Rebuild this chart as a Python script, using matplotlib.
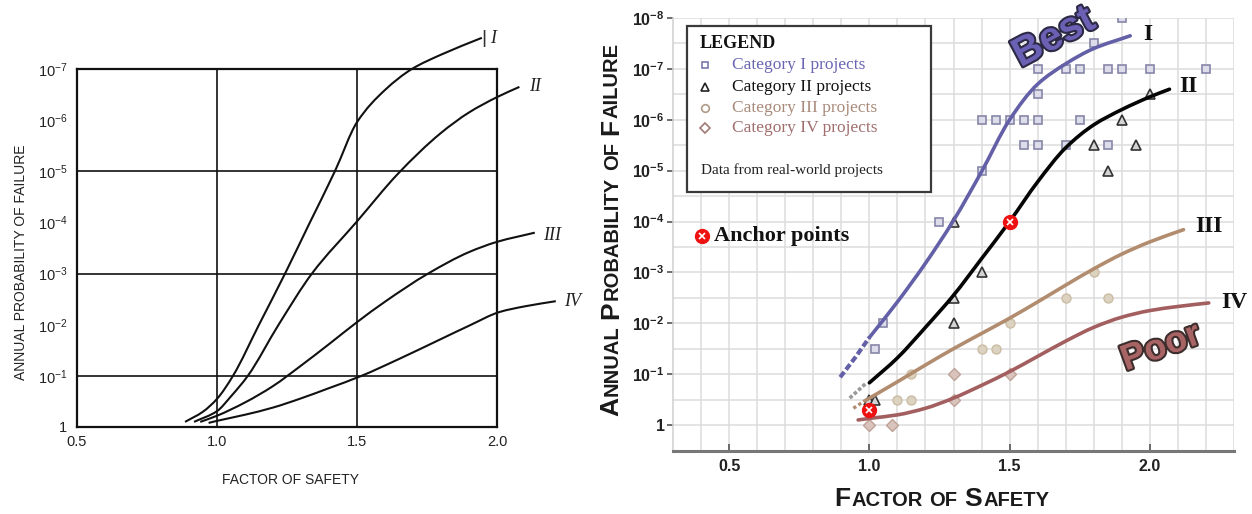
import numpy as np
import matplotlib
matplotlib.use("Agg")
import matplotlib.pyplot as plt
import matplotlib.patheffects as pe
from matplotlib.patches import Rectangle, PathPatch
from matplotlib.lines import Line2D
from matplotlib.path import Path
from matplotlib.transforms import IdentityTransform

plt.rcParams['font.family'] = ['Liberation Sans', 'DejaVu Sans']
plt.rcParams['mathtext.default'] = 'regular'

# ---------------- data (factor of safety, log10 annual probability of failure) -------------
# left panel (original curves)
L1_fs = [0.886, 0.95, 1.0, 1.057, 1.15, 1.243, 1.33, 1.421, 1.5, 1.6, 1.696, 1.8, 1.946]
L1_lp = [-0.1, -0.3, -0.55, -1.0, -2.0, -3.0, -3.98, -5.0, -5.96, -6.59, -7.0, -7.28, -7.61]
L2_fs = [0.918, 1.0, 1.05, 1.11, 1.22, 1.339, 1.5, 1.646, 1.8, 1.9, 2.0, 2.08]
L2_lp = [-0.1, -0.31, -0.6, -1.0, -2.0, -3.0, -4.02, -4.95, -5.75, -6.15, -6.45, -6.65]
L3_fs = [0.94, 1.0, 1.1, 1.2, 1.3, 1.4, 1.5, 1.6, 1.754, 1.9, 2.0, 2.135]
L3_lp = [-0.1, -0.22, -0.48, -0.8, -1.2, -1.62, -2.05, -2.45, -3.0, -3.42, -3.62, -3.8]
L4_fs = [0.97, 1.0, 1.1, 1.2, 1.3, 1.4, 1.516, 1.65, 1.8, 1.9, 2.01, 2.1, 2.21]
L4_lp = [-0.08, -0.12, -0.24, -0.38, -0.56, -0.76, -1.0, -1.33, -1.72, -1.98, -2.25, -2.36, -2.46]
left_labels = ['I', 'II', 'III', 'IV']
left_label_fs = [1.985, 2.136, 2.196, 2.27]
left_label_lp = [-7.6, -6.65, -3.75, -2.46]

# right panel (redrawn curves)
R1_dash_fs = [0.896, 0.95, 1.0]
R1_dash_lp = [-0.94, -1.33, -1.72]
R1_fs = [1.0, 1.1, 1.2, 1.3, 1.4, 1.5, 1.6, 1.7, 1.8, 1.93]
R1_lp = [-1.72, -2.42, -3.18, -4.02, -4.98, -6.0, -6.7, -7.1, -7.4, -7.65]
R2_dot_fs = [0.93, 0.99]
R2_dot_lp = [-0.53, -0.83]
R2_fs = [1.0, 1.1, 1.2, 1.3, 1.4, 1.5, 1.6, 1.7, 1.8, 1.9, 2.0, 2.07]
R2_lp = [-0.83, -1.32, -1.92, -2.55, -3.27, -4.0, -4.78, -5.45, -5.9, -6.2, -6.45, -6.6]
R3_dot_fs = [0.943, 0.985]
R3_dot_lp = [-0.33, -0.48]
R3_fs = [0.985, 1.1, 1.2, 1.3, 1.4, 1.5, 1.6, 1.7, 1.8, 1.9, 2.0, 2.12]
R3_lp = [-0.48, -0.85, -1.18, -1.5, -1.8, -2.1, -2.42, -2.75, -3.07, -3.36, -3.6, -3.84]
R4_fs = [0.96, 1.0, 1.1, 1.2, 1.3, 1.4, 1.5, 1.6, 1.7, 1.8, 1.9, 2.0, 2.1, 2.21]
R4_lp = [-0.1, -0.13, -0.2, -0.33, -0.53, -0.78, -1.05, -1.35, -1.65, -1.92, -2.12, -2.25, -2.33, -2.4]

cat1_fs = [1.90, 1.80, 1.60, 1.70, 1.75, 1.85, 1.90, 2.00, 2.20, 1.60, 1.40, 1.45, 1.50, 1.55,
           1.60, 1.75, 1.55, 1.60, 1.70, 1.85, 1.40, 1.25, 1.05, 1.02]
cat1_lp = [-8, -7.5, -7, -7, -7, -7, -7, -7, -7, -6.5, -6, -6, -6, -6,
           -6, -6, -5.5, -5.5, -5.5, -5.5, -5, -4, -2, -1.5]
cat2_fs = [2.0, 1.9, 1.8, 1.95, 1.85, 1.3, 1.4, 1.3, 1.3, 1.0, 1.02]
cat2_lp = [-6.5, -6, -5.5, -5.5, -5, -4, -3, -2.5, -2, -0.5, -0.5]
cat3_fs = [1.8, 1.7, 1.85, 1.5, 1.4, 1.45, 1.15, 1.1, 1.15]
cat3_lp = [-3, -2.5, -2.5, -2, -1.5, -1.5, -1, -0.5, -0.5]
cat4_fs = [1.3, 1.5, 1.0, 1.08, 1.3]
cat4_lp = [-1, -1, 0, 0, -0.5]
anchor_fs = [1.0, 1.5]
anchor_lp = [-0.3, -4.0]

right_labels = ['I', 'II', 'III', 'IV']
right_label_fs = [1.993, 2.136, 2.211, 2.30]
right_label_lp = [-7.68, -6.65, -3.9, -2.4]

legend_labels = ['Category I projects', 'Category II projects',
                 'Category III projects', 'Category IV projects']


def P(lp):
    return 10.0 ** np.asarray(lp, dtype=float)


def smooth_curve(ax, xs, lps, **kw):
    """Smooth monotone cubic (Bezier) path through the read points, in (x, log10 p) space."""
    x = np.asarray(xs, float)
    y = np.asarray(lps, float)
    n = len(x)
    h = np.diff(x)
    d = np.diff(y) / h
    m = np.zeros(n)
    m[0], m[-1] = d[0], d[-1]
    for k in range(1, n - 1):
        if d[k - 1] * d[k] <= 0:
            m[k] = 0.0
        else:
            w1 = 2 * h[k] + h[k - 1]
            w2 = h[k] + 2 * h[k - 1]
            m[k] = (w1 + w2) / (w1 / d[k - 1] + w2 / d[k])
    verts = [(x[0], y[0])]
    codes = [Path.MOVETO]
    for k in range(n - 1):
        verts += [(x[k] + h[k] / 3, y[k] + m[k] * h[k] / 3),
                  (x[k + 1] - h[k] / 3, y[k + 1] - m[k + 1] * h[k] / 3),
                  (x[k + 1], y[k + 1])]
        codes += [Path.CURVE4] * 3
    v = np.array(verts)
    v[:, 1] = 10.0 ** v[:, 1]
    patch = PathPatch(Path(v, codes), fill=False, **kw)
    ax.add_patch(patch)
    return patch


# ---------------- figure ----------------
W, H = 1252, 514
fig = plt.figure(figsize=(W / 100, H / 100), dpi=100)
fig.patch.set_facecolor('white')


def fx(px):
    return px / W


def fy(py):
    return 1 - py / H


# ---------------- left panel ----------------
ax1 = fig.add_axes([fx(77), fy(427), (497 - 77) / W, (427 - 69) / H])
ax1.set_yscale('log')
ax1.set_xlim(0.5, 2.0)
ax1.set_ylim(1, 1e-7)
ax1.set_xticks([0.5, 1.0, 1.5, 2.0])
ax1.set_xticklabels(['0.5', '1.0', '1.5', '2.0'])
ax1.set_yticks([10.0 ** -k for k in range(8)])
ax1.set_yticklabels(['1'] + [r'$10^{-%d}$' % k for k in range(1, 8)])
ax1.yaxis.set_minor_locator(matplotlib.ticker.NullLocator())
ax1.tick_params(length=0, labelsize=10.5, colors='#222222')
ax1.tick_params(axis='y', pad=7)
ax1.tick_params(axis='x', pad=6)
for s in ax1.spines.values():
    s.set_linewidth(1.6)
    s.set_color('#111111')
for v in [1.0, 1.5]:
    ax1.axvline(v, color='#111111', lw=1.2, zorder=1)
for h in [1e-1, 1e-3, 1e-5]:
    ax1.axhline(h, color='#111111', lw=1.2, zorder=1)
for fs_, lp_ in [(L1_fs, L1_lp), (L2_fs, L2_lp), (L3_fs, L3_lp), (L4_fs, L4_lp)]:
    smooth_curve(ax1, fs_, lp_, edgecolor='#111111', lw=1.5, clip_on=False, zorder=3)
for lab, x, y in zip(left_labels, left_label_fs, left_label_lp):
    ax1.text(x, 10.0 ** y, lab, fontsize=13, family=['Liberation Serif', 'DejaVu Serif'],
             style='italic', ha='center', va='center', clip_on=False, color='#222222')
ax1.text(left_label_fs[0] - 0.032, 10.0 ** left_label_lp[0], '|', fontsize=14, ha='center',
         va='center', clip_on=False, color='#333333')

fig.text(fx(290), fy(480), 'FACTOR OF SAFETY', fontsize=10, ha='center', va='center',
         color='#222222', family=['Liberation Sans Narrow', 'Liberation Sans'])
fig.text(fx(21), fy(262), 'ANNUAL PROBABILITY OF FAILURE', fontsize=10, rotation=90,
         ha='center', va='center', color='#222222', family=['Liberation Sans Narrow', 'Liberation Sans'])

# ---------------- right panel ----------------
ax2 = fig.add_axes([fx(673), fy(451), (1234 - 673) / W, (451 - 18) / H])
ax2.set_yscale('log')
ax2.set_xlim(0.3, 2.3)
ax2.set_ylim(10 ** 0.51, 1e-8)
ax2.set_xticks([0.5, 1.0, 1.5, 2.0])
ax2.set_xticklabels(['0.5', '1.0', '1.5', '2.0'])
ax2.set_xticks(np.round(np.arange(0.4, 2.31, 0.1), 2), minor=True)
ax2.set_yticks([10.0 ** -k for k in range(9)])
ax2.set_yticklabels(['1'] + [r'$10^{-%d}$' % k for k in range(1, 9)])
ax2.set_yticks([10.0 ** -(k + 0.5) for k in range(8)], minor=True)
ax2.yaxis.set_minor_formatter(matplotlib.ticker.NullFormatter())
ax2.grid(which='both', color='#dcdcdc', lw=1.1)
ax2.set_axisbelow(True)
ax2.tick_params(which='minor', length=0)
ax2.tick_params(axis='y', which='major', direction='out', length=4, width=1.2, color='#555555',
                labelsize=11.5, pad=2)
ax2.tick_params(axis='x', which='major', direction='in', length=5, width=1.2, color='#555555',
                labelsize=11.5, pad=6)
for lab in ax2.get_xticklabels() + ax2.get_yticklabels():
    lab.set_fontweight('bold')
    lab.set_color('#222222')
ax2.spines['top'].set_visible(False)
ax2.spines['right'].set_visible(False)
ax2.spines['left'].set_color('#cfcfcf')
ax2.spines['left'].set_linewidth(1.1)
ax2.spines['bottom'].set_color('#777777')
ax2.spines['bottom'].set_linewidth(2.2)

# scatter data
ax2.plot(cat1_fs, P(cat1_lp), 's', ms=6, mfc='#dcdcea', mec='#8686a8', mew=1.2, ls='none', zorder=2)
ax2.plot(cat2_fs, P(cat2_lp), '^', ms=7, mfc='#d4d4d4', mec='#333333', mew=1.2, ls='none', zorder=2)
ax2.plot(cat3_fs, P(cat3_lp), 'o', ms=6.5, mfc='#dcd2c0', mec='#cbbda6', mew=1.0, ls='none', zorder=2)
ax2.plot(cat4_fs, P(cat4_lp), 'D', ms=6.5, mfc='#d8c4bc', mec='#bfa198', mew=1.0, ls='none', zorder=2)

c1, c2, c3, c4 = '#6460a8', '#050505', '#b28c6e', '#a35f5f'
ax2.plot(R1_dash_fs, P(R1_dash_lp), color=c1, lw=3, ls=(0, (1.6, 0.7)), zorder=3)
smooth_curve(ax2, R1_fs, R1_lp, edgecolor=c1, lw=2.6, zorder=3, capstyle='round')
ax2.plot(R2_dot_fs, P(R2_dot_lp), color='#9a9a9a', lw=2.6, ls=(0, (1.0, 0.6)), zorder=3)
smooth_curve(ax2, R2_fs, R2_lp, edgecolor=c2, lw=2.6, zorder=3, capstyle='round')
ax2.plot(R3_dot_fs, P(R3_dot_lp), color=c3, lw=2.4, ls=(0, (1.0, 0.8)), zorder=3)
smooth_curve(ax2, R3_fs, R3_lp, edgecolor=c3, lw=2.6, zorder=3, capstyle='round')
smooth_curve(ax2, R4_fs, R4_lp, edgecolor=c4, lw=2.6, zorder=3, capstyle='round')

# anchor points
ax2.plot(anchor_fs, P(anchor_lp), 'o', ms=10, mfc='#ee1111', mec='#ee1111', ls='none', zorder=5)
ax2.plot(anchor_fs, P(anchor_lp), 'x', ms=4, mec='white', mew=1.2, ls='none', zorder=6)

for lab, x, y in zip(right_labels, right_label_fs, right_label_lp):
    ax2.text(x, 10.0 ** y, lab, fontsize=17, fontweight='bold', family=['Liberation Serif', 'DejaVu Serif'],
             ha='center', va='center', clip_on=False, color='#111111')

ax2.text(1.658, 10 ** -7.62, 'Best', fontsize=29, fontweight='bold', rotation=28, color='#6a60b4',
         ha='center', va='center', clip_on=False, zorder=7,
         path_effects=[pe.withStroke(linewidth=3, foreground='#2b2944')])
ax2.text(2.04, 10 ** -1.52, 'Poor', fontsize=26, fontweight='bold', rotation=20, color='#a86464',
         ha='center', va='center', clip_on=False, zorder=7,
         path_effects=[pe.withStroke(linewidth=3, foreground='#3e2d2d')])

# legend box
fig.add_artist(Rectangle((fx(687), fy(192)), (931 - 687) / W, (192 - 26) / H, transform=fig.transFigure,
                         facecolor='white', edgecolor='#3a3a3a', lw=1.6, zorder=8))
serif = ['Liberation Serif', 'DejaVu Serif']
fig.text(fx(700), fy(44), 'LEGEND', fontsize=13, fontweight='bold', family=serif, ha='left',
         va='center', color='#111111', zorder=9)
leg_colors = ['#6a66b2', '#111111', '#a88a7a', '#a06e6e']
leg_mec = ['#7c7aae', '#222222', '#b09a88', '#a07a72']
leg_markers = ['s', '^', 'o', 'D']
leg_ms = [5, 6, 5.5, 5]
leg_y = [65, 87, 108, 128]
for lab, col, mec, mk, ms, yy in zip(legend_labels, leg_colors, leg_mec, leg_markers, leg_ms, leg_y):
    fig.add_artist(Line2D([fx(705)], [fy(yy)], marker=mk, ms=ms, mfc='none', mec=mec, mew=1.2,
                          ls='none', transform=fig.transFigure, zorder=9))
    fig.text(fx(732), fy(yy), lab, fontsize=12.5, family=serif, color=col, ha='left', va='center', zorder=9)
fig.text(fx(701), fy(170), 'Data from real-world projects', fontsize=11, family=serif,
         color='#222222', ha='left', va='center', zorder=9)

fig.add_artist(Line2D([fx(702)], [fy(236)], marker='o', ms=10, mfc='#ee1111', mec='#ee1111',
                      ls='none', transform=fig.transFigure, zorder=9))
fig.add_artist(Line2D([fx(702)], [fy(236)], marker='x', ms=4, mec='white', mew=1.2,
                      ls='none', transform=fig.transFigure, zorder=10))
fig.text(fx(714), fy(236), 'Anchor points', fontsize=16, fontweight='bold', family=serif,
         color='#111111', ha='left', va='center', zorder=9)


# small-caps axis labels for right panel
def smallcaps(c_main, c_base, text, big, small, rotation=0, **kw):
    r = fig.canvas.get_renderer()
    pieces = []
    words = text.split(' ')
    for i, w in enumerate(words):
        if len(w) <= 2:          # short words such as "OF" are all small caps
            pieces.append((w, small))
        else:
            pieces.append((w[0], big))
            pieces.append((w[1:], small))
        if i < len(words) - 1:
            pieces.append((None, small))
    arts, lengths = [], []
    for s, size in pieces:
        if s is None:
            arts.append(None)
            lengths.append(size * 100 / 72 * 0.3)
            continue
        t = fig.text(0, 0, s, fontsize=size, rotation=rotation, rotation_mode='anchor',
                     ha='left', va='baseline', transform=IdentityTransform(), **kw)
        bb = t.get_window_extent(renderer=r)
        lengths.append((bb.height if rotation == 90 else bb.width) + 1.0)
        arts.append(t)
    total = sum(lengths)
    pos = -total / 2
    for t, L in zip(arts, lengths):
        if t is not None:
            if rotation == 90:
                t.set_position((c_base, (H - c_main) + pos))
            else:
                t.set_position((c_main + pos, H - c_base))
        pos += L


fig.canvas.draw()
smallcaps(942, 506, 'FACTOR OF SAFETY', 19, 14.5, rotation=0, fontweight='bold', color='#1a1a1a')
smallcaps(229, 618, 'ANNUAL PROBABILITY OF FAILURE', 19, 14.5, rotation=90, fontweight='bold', color='#1a1a1a')

fig.savefig('out.png', dpi=100)
